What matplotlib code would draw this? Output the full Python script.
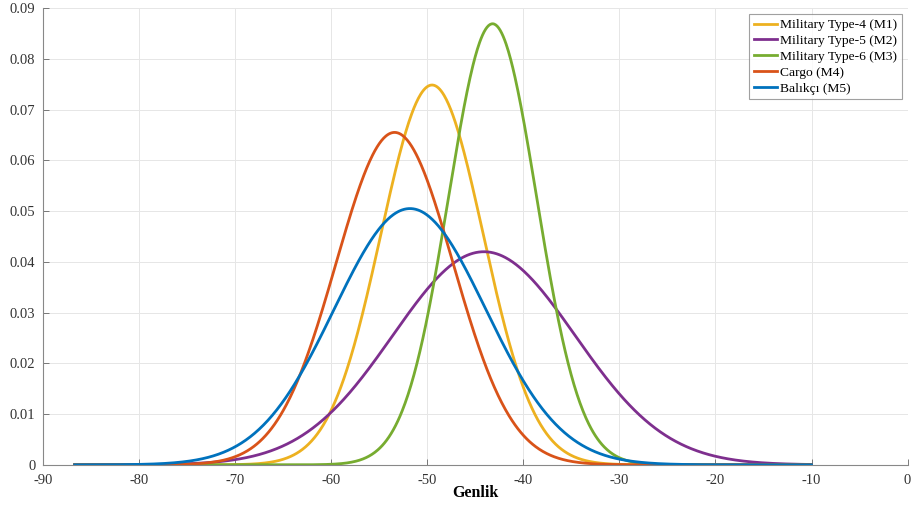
import matplotlib.pyplot as plt
import numpy as np

# normal-distribution parameters (mean, std)
labels = ["Military Type-4 (M1)", "Military Type-5 (M2)", "Military Type-6 (M3)",
          "Cargo (M4)", "Balıkçı (M5)"]
means = [-49.5, -44.1, -43.2, -53.4, -51.8]
stds = [5.33, 9.5, 4.59, 6.09, 7.9]
colors = ["#EDB120", "#7E2F8E", "#77AC30", "#D95319", "#0072BD"]
x_range = [-86.7, -10]

xticks = [-90, -80, -70, -60, -50, -40, -30, -20, -10, 0]
yticks = [0, 0.01, 0.02, 0.03, 0.04, 0.05, 0.06, 0.07, 0.08, 0.09]


def main():
    plt.rcParams['font.family'] = ['Liberation Serif', 'DejaVu Serif']
    fig = plt.figure(figsize=[9.14, 5.08], dpi=100)
    ax = fig.add_axes([0.047, 0.085, 0.946, 0.899])

    x = np.linspace(x_range[0], x_range[1], 1000)
    for lab, m, s, c in zip(labels, means, stds, colors):
        y = np.exp(-0.5 * ((x - m) / s) ** 2) / (s * np.sqrt(2 * np.pi))
        ax.plot(x, y, color=c, lw=2, label=lab)

    ax.set_xlim(-90, 0)
    ax.set_ylim(0, 0.09)
    ax.set_xticks(xticks)
    ax.set_xticklabels([str(t) for t in xticks])
    ax.set_yticks(yticks)
    ax.set_yticklabels(["0"] + ["%.2f" % t for t in yticks[1:]])
    ax.tick_params(direction='in', labelsize=10.5, labelcolor='#333333',
                   color='#666666', length=4, width=0.6)
    ax.tick_params(axis='x', pad=6.5)
    ax.tick_params(axis='y', pad=5.5)
    ax.grid(True, color='#e6e6e6', lw=0.7)
    ax.set_axisbelow(True)
    for sp in ['top', 'right']:
        ax.spines[sp].set_visible(False)
    for sp in ['left', 'bottom']:
        ax.spines[sp].set_color('#888888')
        ax.spines[sp].set_linewidth(0.8)

    ax.set_xlabel("Genlik", fontsize=11.5, fontweight='bold', labelpad=-1.5)

    leg = ax.legend(loc='upper right', fontsize=9.7, frameon=True, fancybox=False,
                    handlelength=1.7, handletextpad=0.2, labelspacing=0.25,
                    borderpad=0.35, borderaxespad=0.45)
    leg.get_frame().set_edgecolor('#888888')
    leg.get_frame().set_linewidth(0.8)

    fig.savefig("out.png", dpi=100)


if __name__ == "__main__": main()
